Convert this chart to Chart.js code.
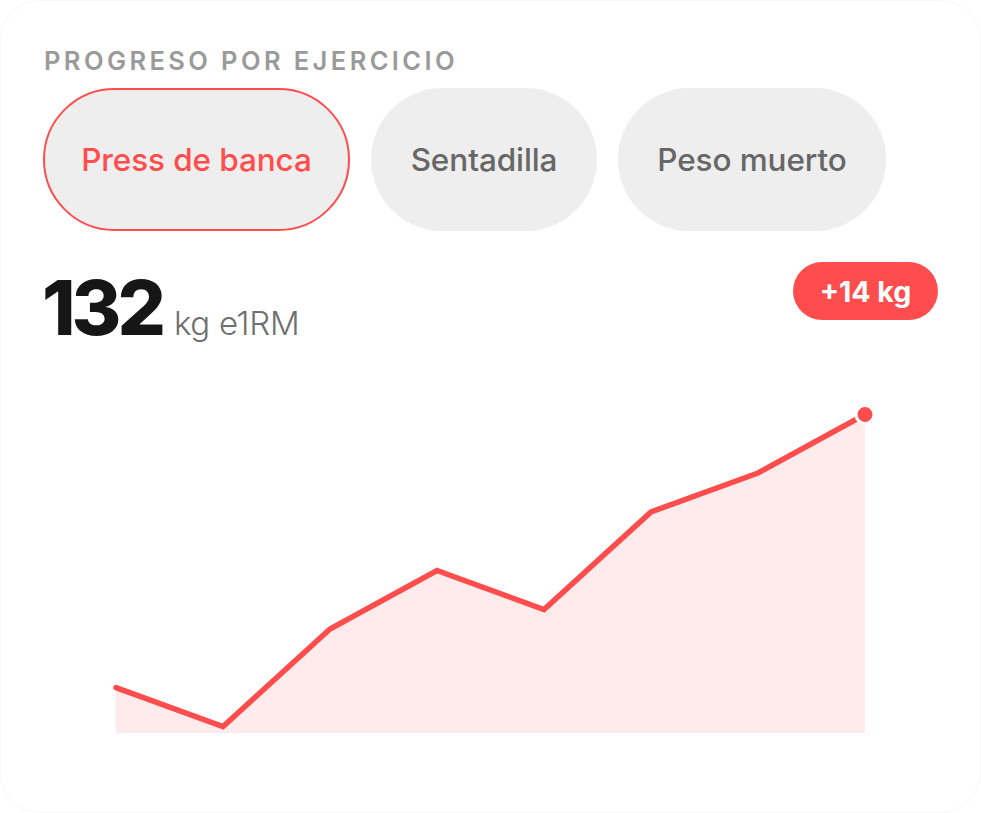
<!DOCTYPE html>
<html>
<head>
<meta charset="utf-8">
<script src="https://cdn.jsdelivr.net/npm/chart.js@4.4.1/dist/chart.umd.min.js"></script>
<style>
  html, body { margin: 0; padding: 0; background: #ffffff; width: 981px; height: 813px; overflow: hidden; }
  body { font-family: Inter, "Noto Sans", sans-serif; position: relative; }
  .card { position: absolute; left: 0; top: 0; width: 979px; height: 811px; border: 1px solid #f7f7f7; border-radius: 40px; background: #fff; }
  .title { position: absolute; left: 44px; top: 44px; font-size: 25.5px; font-weight: 600; letter-spacing: 3.4px; color: #9a9a9a; line-height: 34px; }
  .tabs { position: absolute; top: 88px; left: 43px; display: flex; gap: 21px; }
  .tab { height: 143px; box-sizing: border-box; border-radius: 72px; background: #eeeeee; color: #676767; font-size: 31.5px; font-weight: 500; display: flex; align-items: center; justify-content: center; letter-spacing: -0.1px; }
  .tab.active { border: 2px solid #ff4d4d; color: #ff4d4d; }
  .big { position: absolute; left: 42px; top: 262px; display: flex; align-items: baseline; }
  .num { font-size: 76px; font-weight: 800; color: #161616; letter-spacing: -4px; line-height: 90px; }
  .unit { font-size: 33px; font-weight: 300; color: #6f6f6f; margin-left: 12px; letter-spacing: -0.3px; }
  .badge { position: absolute; left: 793px; top: 262px; width: 145px; height: 58px; border-radius: 29px; background: #ff4d4d; color: #fff; font-size: 28.5px; font-weight: 700; display: flex; align-items: center; justify-content: center; }
  .chartwrap { position: absolute; left: 96px; top: 374.5px; width: 789px; height: 358px; }
</style>
</head>
<body>
<div class="card"></div>
<div class="title">PROGRESO POR EJERCICIO</div>
<div class="tabs" id="tabs"></div>
<div class="big"><span class="num" id="num"></span><span class="unit">kg e1RM</span></div>
<div class="badge" id="badge"></div>
<div class="chartwrap"><canvas id="c"></canvas></div>
<script>
const exercises = ["Press de banca", "Sentadilla", "Peso muerto"];
const tabWidths = [307, 226, 268];
const sessions = ["S1", "S2", "S3", "S4", "S5", "S6", "S7", "S8"];
const e1rm = [118, 116, 121, 124, 122, 127, 129, 132];
const yMin = 115.67;
const yMax = 133;

const tabs = document.getElementById('tabs');
exercises.forEach((name, i) => {
  const d = document.createElement('div');
  d.className = 'tab' + (i === 0 ? ' active' : '');
  d.style.width = tabWidths[i] + 'px';
  d.textContent = name;
  tabs.appendChild(d);
});
const last = e1rm[e1rm.length - 1];
document.getElementById('num').textContent = last;
const diff = last - e1rm[0];
document.getElementById('badge').textContent = (diff >= 0 ? '+' : '') + diff + ' kg';

const lastIdx = e1rm.length - 1;
new Chart(document.getElementById('c'), {
  type: 'line',
  data: {
    labels: sessions,
    datasets: [{
      data: e1rm,
      borderColor: '#ff4d4d',
      borderWidth: 5.5,
      borderCapStyle: 'round',
      borderJoinStyle: 'miter',
      backgroundColor: 'rgba(255,77,77,0.11)',
      fill: 'start',
      tension: 0,
      clip: false,
      pointRadius: ctx => ctx.dataIndex === lastIdx ? 9 : 0,
      pointHoverRadius: ctx => ctx.dataIndex === lastIdx ? 9 : 0,
      pointBackgroundColor: '#ff4d4d',
      pointBorderColor: '#ffffff',
      pointBorderWidth: 3
    }]
  },
  options: {
    responsive: true,
    maintainAspectRatio: false,
    animation: false,
    layout: { padding: { left: 20, right: 20, top: 20, bottom: 0 }, autoPadding: false },
    plugins: { legend: { display: false }, tooltip: { enabled: false } },
    scales: {
      x: { display: false, offset: false },
      y: { display: false, min: yMin, max: yMax }
    }
  }
});
</script>
</body>
</html>
